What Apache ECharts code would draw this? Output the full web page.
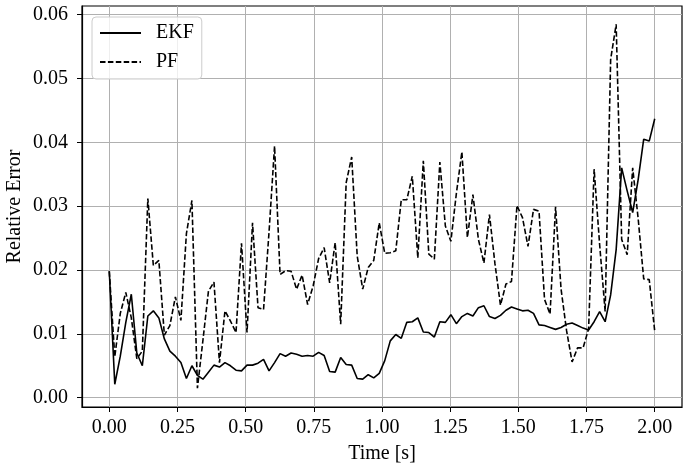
<!DOCTYPE html>
<html>
<head>
<meta charset="utf-8">
<script src="https://cdn.jsdelivr.net/npm/echarts@6/dist/echarts.min.js"></script>
<style>
html,body{margin:0;padding:0;background:#fff;}
#chart{width:689px;height:471px;}
</style>
</head>
<body>
<div id="chart"></div>
<script>
// Sampling: 100 samples from 0 s to 2 s
const tStart = 0;
const tEnd = 2;
const nSamples = 100;

const ekf = [
0.0198,0.0021,0.0065,0.0118,0.0162,0.0070,0.0050,0.0128,0.0136,0.0125,
0.0092,0.0073,0.0065,0.0055,0.0030,0.0050,0.0035,0.0029,0.0040,0.0051,
0.0048,0.0055,0.0050,0.0043,0.0042,0.0051,0.0051,0.0054,0.0060,0.0042,
0.0055,0.0069,0.0065,0.0070,0.0068,0.0065,0.0066,0.0065,0.0071,0.0066,
0.0041,0.0040,0.0063,0.0052,0.0051,0.0030,0.0029,0.0036,0.0031,0.0038,
0.0058,0.0089,0.0099,0.0093,0.0118,0.0119,0.0125,0.0103,0.0102,0.0095,
0.0119,0.0118,0.0130,0.0116,0.0127,0.0132,0.0128,0.0141,0.0144,0.0127,
0.0124,0.0129,0.0137,0.0142,0.0139,0.0136,0.0137,0.0132,0.0114,0.0113,
0.0110,0.0107,0.0110,0.0115,0.0117,0.0113,0.0109,0.0106,0.0119,0.0135,
0.0119,0.0161,0.0232,0.0360,0.0324,0.0290,0.0342,0.0405,0.0402,0.0437
];

const pf = [
0.0198,0.0064,0.0132,0.0165,0.0125,0.0061,0.0073,0.0312,0.0207,0.0215,
0.0098,0.0113,0.0158,0.0121,0.0257,0.0309,0.0015,0.0090,0.0167,0.0181,
0.0055,0.0136,0.0120,0.0102,0.0242,0.0102,0.0274,0.0141,0.0138,0.0260,
0.0394,0.0193,0.0199,0.0198,0.0170,0.0192,0.0146,0.0175,0.0218,0.0235,
0.0180,0.0243,0.0115,0.0337,0.0377,0.0222,0.0170,0.0204,0.0215,0.0274,
0.0226,0.0227,0.0230,0.0310,0.0310,0.0347,0.0219,0.0371,0.0225,0.0217,
0.0369,0.0269,0.0245,0.0320,0.0385,0.0251,0.0318,0.0248,0.0211,0.0287,
0.0210,0.0145,0.0178,0.0182,0.0301,0.0282,0.0237,0.0295,0.0292,0.0154,
0.0131,0.0299,0.0170,0.0105,0.0056,0.0078,0.0078,0.0108,0.0358,0.0240,
0.0135,0.0530,0.0585,0.0248,0.0224,0.0360,0.0280,0.0186,0.0185,0.0104
];

const xTicks = [0, 0.25, 0.5, 0.75, 1.0, 1.25, 1.5, 1.75, 2.0];
const yTicks = [0, 0.01, 0.02, 0.03, 0.04, 0.05, 0.06];

const seriesNames = ['EKF', 'PF'];
const xLabel = 'Time [s]';
const yLabel = 'Relative Error';

const dt = (tEnd - tStart) / (nSamples - 1);
const times = ekf.map((_, i) => tStart + i * dt);
const ekfData = times.map((t, i) => [t, ekf[i]]);
const pfData = times.map((t, i) => [t, pf[i]]);

const FONT = '"Liberation Serif", "Times New Roman", serif';

const chart = echarts.init(document.getElementById('chart'), null, {renderer: 'canvas'});
chart.setOption({
  animation: false,
  backgroundColor: '#ffffff',
  grid: {
    left: 82, right: 7, top: 6, bottom: 64,
    containLabel: false,
    outerBoundsMode: 'none',
    show: true, borderColor: '#000', borderWidth: 1.2, backgroundColor: 'transparent'
  },
  legend: {
    show: true,
    left: 92, top: 17,
    orient: 'vertical',
    itemWidth: 41, itemHeight: 14,
    itemGap: 9,
    padding: [6, 8, 7, 7],
    backgroundColor: 'rgba(255,255,255,0.8)',
    borderColor: '#cccccc', borderWidth: 1, borderRadius: 4,
    itemStyle: {opacity: 0},
    textStyle: {fontFamily: FONT, fontSize: 20, color: '#000', padding: [0, 0, 0, 10]},
    data: seriesNames
  },
  xAxis: {
    type: 'value',
    min: -0.1, max: 2.1,
    name: xLabel,
    nameLocation: 'middle',
    nameGap: 37,
    nameMoveOverlap: false,
    nameTextStyle: {fontFamily: FONT, fontSize: 20, color: '#000'},
    axisLine: {show: true, onZero: false, lineStyle: {color: '#000', width: 1.2}},
    axisTick: {show: true, length: 5, lineStyle: {color: '#000', width: 1}, customValues: xTicks},
    axisLabel: {
      fontFamily: FONT, fontSize: 20, color: '#000', margin: 11,
      customValues: xTicks,
      formatter: v => v.toFixed(2)
    },
    splitLine: {show: true, lineStyle: {color: '#b0b0b0', width: 1}}
  },
  yAxis: {
    type: 'value',
    min: -0.00146, max: 0.06136,
    name: yLabel,
    nameLocation: 'middle',
    nameGap: 57,
    nameMoveOverlap: false,
    nameTextStyle: {fontFamily: FONT, fontSize: 20, color: '#000'},
    axisLine: {show: true, onZero: false, lineStyle: {color: '#000', width: 1.2}},
    axisTick: {show: true, length: 5, lineStyle: {color: '#000', width: 1}, customValues: yTicks},
    axisLabel: {
      fontFamily: FONT, fontSize: 20, color: '#000', margin: 14,
      customValues: yTicks,
      formatter: v => v.toFixed(2)
    },
    splitLine: {show: true, lineStyle: {color: '#b0b0b0', width: 1}}
  },
  series: [
    {
      name: seriesNames[0], type: 'line', data: ekfData,
      showSymbol: false, symbol: 'none',
      lineStyle: {color: '#000', width: 1.6, type: 'solid'},
      itemStyle: {color: '#000'}
    },
    {
      name: seriesNames[1], type: 'line', data: pfData,
      showSymbol: false, symbol: 'none',
      lineStyle: {color: '#000', width: 1.6, type: [5.5, 2.4]},
      itemStyle: {color: '#000'}
    }
  ]
});
</script>
</body>
</html>
